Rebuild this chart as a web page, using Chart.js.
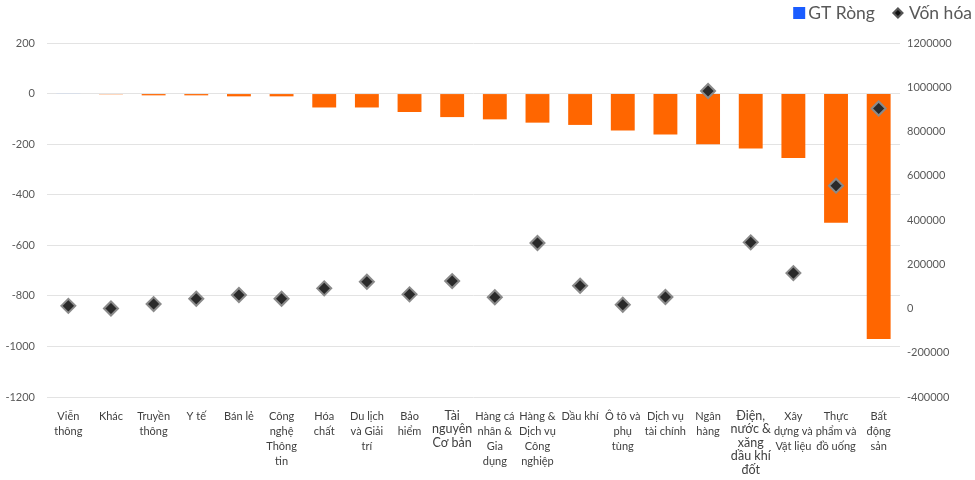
<!DOCTYPE html>
<html>
<head>
<meta charset="utf-8">
<script src="https://cdn.jsdelivr.net/npm/chart.js@4/dist/chart.umd.min.js"></script>
<style>
 html,body{margin:0;padding:0;background:#fff;}
 #wrap{width:975px;height:480px;}
</style>
</head>
<body>
<div id="wrap"><canvas id="chart" width="975" height="480"></canvas></div>
<script>
// nganh (label lines as shown under each column)
const nganh=[
 ["Viễn","thông"],["Khác"],["Truyền","thông"],["Y tế"],["Bán lẻ"],
 ["Công","nghệ","Thông","tin"],["Hóa","chất"],["Du lịch","và Giải","trí"],
 ["Bảo","hiểm"],["Tài","nguyên","Cơ bản"],["Hàng cá","nhân &","Gia","dụng"],
 ["Hàng &","Dịch vụ","Công","nghiệp"],["Dầu khí"],["Ô tô và","phụ","tùng"],
 ["Dịch vụ","tài chính"],["Ngân","hàng"],["Điện,","nước &","xăng","dầu khí","đốt"],
 ["Xây","dựng và","Vật liệu"],["Thực","phẩm và","đồ uống"],["Bất","động","sản"]
];
// GT Ròng (left axis)
const gtRong=[0.5,-3,-7,-7,-11,-11,-55,-55,-73,-93,-102,-115,-124,-146,-162,-200,-217,-255,-511,-971];
// Vốn hóa (right axis)
const vonHoa=[12000,0,20000,44000,61000,44000,91000,121000,64000,124000,51000,296000,103000,17000,52000,983000,299000,160000,555000,904000];

const leftTicks={min:-1200,max:200,step:200};
const rightTicks={min:-400000,max:1200000,step:200000};

const FONT="Lato, 'Open Sans', sans-serif";
const txt="#595959";

// legend drawn top-right like the Excel one
const legendPlugin={
 id:"excelLegend",
 afterDraw(c){
  const ctx=c.ctx;
  ctx.save();
  ctx.font="17.5px "+FONT;
  ctx.fillStyle=txt;
  ctx.textBaseline="middle";
  ctx.textAlign="left";
  const y=13;
  const t2="Vốn hóa", t1="GT Ròng";
  const w2=ctx.measureText(t2).width, w1=ctx.measureText(t1).width;
  const x2=c.width-3-w2;
  ctx.fillText(t2,x2,y);
  const dx=x2-11;
  ctx.beginPath();
  ctx.moveTo(dx,y-6);ctx.lineTo(dx+6,y);ctx.lineTo(dx,y+6);ctx.lineTo(dx-6,y);ctx.closePath();
  ctx.fillStyle="#555";ctx.fill();
  ctx.beginPath();
  ctx.moveTo(dx,y-3);ctx.lineTo(dx+3,y);ctx.lineTo(dx,y+3);ctx.lineTo(dx-3,y);ctx.closePath();
  ctx.fillStyle="#111";ctx.fill();
  const x1=dx-23-w1;
  ctx.fillStyle=txt;
  ctx.fillText(t1,x1,y);
  ctx.fillStyle="#1a5cff";
  ctx.fillRect(x1-15,y-6,12,12);
  ctx.restore();
 }
};

const big=i=>i===9||i===16;

new Chart(document.getElementById("chart"),{
 data:{
  labels:nganh,
  datasets:[
   {type:"bar",label:"GT Ròng",data:gtRong,yAxisID:"y",order:2,
    backgroundColor:ctx=>ctx.raw>=0?"#c9d8f5":"#ff6600",
    borderWidth:0,
    categoryPercentage:1,barPercentage:0.56},
   {type:"line",label:"Vốn hóa",data:vonHoa,yAxisID:"y1",order:1,showLine:false,
    pointStyle:"rectRot",pointRadius:7,pointHoverRadius:7,
    pointBackgroundColor:"#2a2a2a",pointBorderColor:"#8a8a8a",pointBorderWidth:2}
  ]
 },
 options:{
  responsive:false,animation:false,
  layout:{padding:{top:43,left:0,right:0,bottom:0}},
  plugins:{legend:{display:false},tooltip:{enabled:false}},
  scales:{
   x:{
    grid:{display:false},border:{display:false},
    ticks:{color:"#404040",autoSkip:false,maxRotation:0,minRotation:0,padding:4,
     font:c=>({family:FONT,size:big(c.index)?12.5:11,lineHeight:big(c.index)?1.08:1.36})},
    afterFit(s){s.height=83;}
   },
   y:{
    position:"left",min:leftTicks.min,max:leftTicks.max,
    grid:{color:"#e3e3e3",drawTicks:false},border:{display:false},
    ticks:{stepSize:leftTicks.step,color:txt,padding:12,font:{family:FONT,size:11},callback:v=>String(v)},
    afterFit(s){s.width=47;}
   },
   y1:{
    position:"right",min:rightTicks.min,max:rightTicks.max,
    grid:{display:false,drawTicks:false},border:{display:false},
    ticks:{stepSize:rightTicks.step,color:txt,padding:7,font:{family:FONT,size:11},callback:v=>String(v)},
    afterFit(s){s.width=75;}
   }
  }
 },
 plugins:[legendPlugin]
});
</script>
</body>
</html>
